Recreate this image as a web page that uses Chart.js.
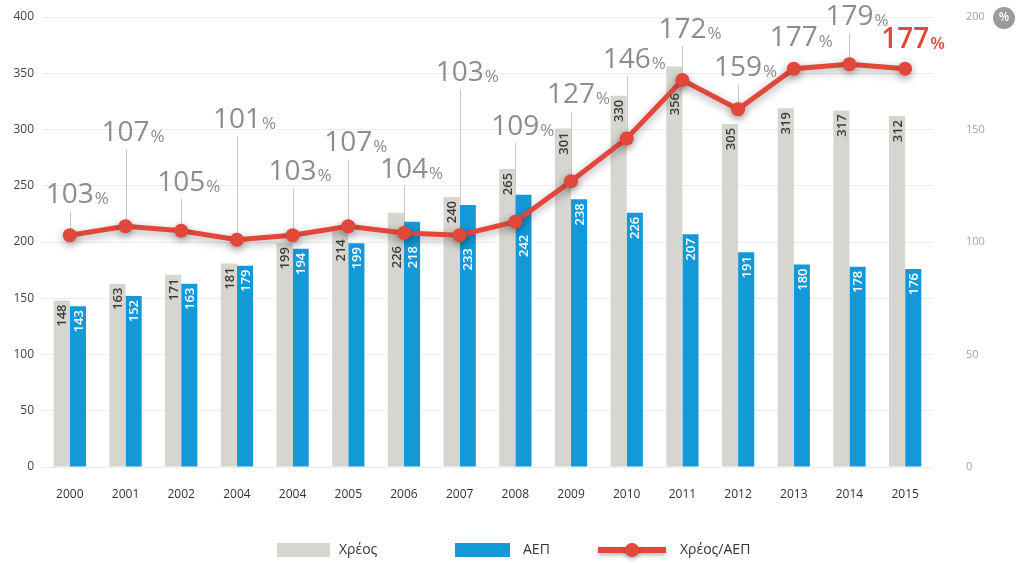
<!DOCTYPE html>
<html>
<head>
<meta charset="utf-8">
<script src="https://cdn.jsdelivr.net/npm/chart.js@4.4.1/dist/chart.umd.min.js"></script>
<style>
  html, body { margin: 0; padding: 0; background: #fff; }
  #wrap { width: 1017px; height: 565px; position: relative; }
</style>
</head>
<body>
<div id="wrap"><canvas id="debt-chart"></canvas></div>
<script>
// Greek public debt vs GDP (bn €) and debt/GDP ratio (%)
const years = ['2000', '2001', '2002', '2004', '2004', '2005', '2006', '2007', '2008', '2009', '2010', '2011', '2012', '2013', '2014', '2015'];
const debt = [148, 163, 171, 181, 199, 214, 226, 240, 265, 301, 330, 356, 305, 319, 317, 312];
const gdp = [143, 152, 163, 179, 194, 199, 218, 233, 242, 238, 226, 207, 191, 180, 178, 176];
const ratio = [103, 107, 105, 101, 103, 107, 104, 103, 109, 127, 146, 172, 159, 177, 179, 177];
const leftTicks = [0, 50, 100, 150, 200, 250, 300, 350, 400];
const rightTicks = [0, 50, 100, 150, 200];

// how far (px) each ratio label sits above its point
const labelLift = [40, 93, 48, 120, 63, 83, 63, 162, 95, 86, 78, 50, 41, 31, 47, 29];

const GREY = '#d7d5cf';
const BLUE = '#1499d8';
const RED = '#e2483a';
const LABEL_GREY = '#8d8d8d';
const FONT = '"Open Sans", "DejaVu Sans", sans-serif';

const shadowPlugin = {
    id: 'lineShadow',
    beforeDatasetDraw(chart, args) {
        if (args.meta.type !== 'line') return;
        const ctx = chart.ctx;
        ctx.save();
        ctx.shadowColor = 'rgba(0,0,0,0.35)';
        ctx.shadowBlur = 8;
        ctx.shadowOffsetY = 3;
    },
    afterDatasetDraw(chart, args) {
        if (args.meta.type !== 'line') return;
        chart.ctx.restore();
    }
};

const leaderPlugin = {
    id: 'leaders',
    beforeDatasetsDraw(chart) {
        const ctx = chart.ctx;
        const meta = chart.getDatasetMeta(0);
        ctx.save();
        ctx.strokeStyle = '#c9c9c9';
        ctx.lineWidth = 1;
        meta.data.forEach((pt, i) => {
            const top = pt.y - labelLift[i] + 16;
            if (pt.y - top < 18) return;
            ctx.beginPath();
            ctx.moveTo(Math.round(pt.x) + 0.5, top);
            ctx.lineTo(Math.round(pt.x) + 0.5, pt.y);
            ctx.stroke();
        });
        ctx.restore();
    }
};

const labelPlugin = {
    id: 'valueLabels',
    afterDatasetsDraw(chart) {
        const ctx = chart.ctx;
        const points = chart.getDatasetMeta(0).data;
        ctx.save();

        // values written up the bars; pushed below the ratio marker where it would cover them
        [[1, debt, '#3a3a3a'], [2, gdp, '#ffffff']].forEach(([idx, values, color]) => {
            chart.getDatasetMeta(idx).data.forEach((bar, i) => {
                const pt = points[i];
                let start = bar.y + 4;
                if (pt.y + 9 > bar.y + 2 && pt.y - 9 < bar.y + 28) start = pt.y + 13;
                ctx.save();
                ctx.translate(bar.x + 1, start);
                ctx.rotate(-Math.PI / 2);
                ctx.font = '600 13px ' + FONT;
                ctx.fillStyle = color;
                ctx.textAlign = 'right';
                ctx.textBaseline = 'middle';
                ctx.fillText(String(values[i]), 0, 0);
                ctx.restore();
            });
        });

        // ratio labels above the line
        points.forEach((pt, i) => {
            const last = i === ratio.length - 1;
            const num = String(ratio[i]);
            const y = pt.y - labelLift[i];
            ctx.font = (last ? '600 ' : '400 ') + '28px ' + FONT;
            const w = ctx.measureText(num).width;
            ctx.fillStyle = last ? RED : LABEL_GREY;
            ctx.textBaseline = 'middle';
            ctx.textAlign = 'left';
            ctx.fillText(num, pt.x - w / 2, y);
            ctx.font = (last ? '600 ' : '400 ') + '17px ' + FONT;
            ctx.fillText('%', pt.x + w / 2 + 1, y + 4);
        });
        ctx.restore();
    }
};

const legendPlugin = {
    id: 'customLegend',
    afterDraw(chart) {
        const ctx = chart.ctx;
        const y = 550;
        ctx.save();
        ctx.font = '14px ' + FONT;
        ctx.textBaseline = 'middle';

        ctx.fillStyle = GREY;
        ctx.fillRect(277, y - 7, 53, 14);
        ctx.fillStyle = '#333';
        ctx.fillText('Χρέος', 339, y);

        ctx.fillStyle = BLUE;
        ctx.fillRect(455, y - 7, 55, 14);
        ctx.fillStyle = '#333';
        ctx.fillText('ΑΕΠ', 523, y);

        ctx.shadowColor = 'rgba(0,0,0,0.3)';
        ctx.shadowBlur = 4;
        ctx.shadowOffsetY = 2;
        ctx.strokeStyle = RED;
        ctx.lineWidth = 6;
        ctx.beginPath();
        ctx.moveTo(598, y);
        ctx.lineTo(666, y);
        ctx.stroke();
        ctx.fillStyle = RED;
        ctx.beginPath();
        ctx.arc(632, y, 7, 0, Math.PI * 2);
        ctx.fill();
        ctx.shadowColor = 'transparent';
        ctx.fillStyle = '#333';
        ctx.fillText('Χρέος/ΑΕΠ', 680, y);

        // unit badge for the right axis
        ctx.fillStyle = '#9a9a9a';
        ctx.beginPath();
        ctx.arc(1004, 18, 11, 0, Math.PI * 2);
        ctx.fill();
        ctx.fillStyle = '#fff';
        ctx.font = '600 12px ' + FONT;
        ctx.textAlign = 'center';
        ctx.fillText('%', 1004, 18);
        ctx.restore();
    }
};

new Chart(document.getElementById('debt-chart'), {
    type: 'bar',
    data: {
        labels: years,
        datasets: [
            {
                type: 'line',
                label: 'Χρέος/ΑΕΠ',
                data: ratio,
                yAxisID: 'y1',
                borderColor: RED,
                backgroundColor: RED,
                borderWidth: 5,
                pointRadius: 7,
                pointBackgroundColor: RED,
                pointBorderWidth: 0,
                tension: 0,
                order: 0
            },
            {
                label: 'Χρέος',
                data: debt,
                yAxisID: 'y',
                backgroundColor: GREY,
                barPercentage: 1,
                categoryPercentage: 0.58,
                order: 1
            },
            {
                label: 'ΑΕΠ',
                data: gdp,
                yAxisID: 'y',
                backgroundColor: BLUE,
                barPercentage: 1,
                categoryPercentage: 0.58,
                order: 1
            }
        ]
    },
    options: {
        responsive: true,
        maintainAspectRatio: false,
        animation: false,
        layout: { padding: { top: 17, right: 0, left: 0, bottom: 0 } },
        plugins: {
            legend: { display: false },
            tooltip: { enabled: false }
        },
        scales: {
            x: {
                grid: { display: false },
                border: { display: false },
                ticks: { color: '#333', font: { family: FONT, size: 12 }, padding: 12, maxRotation: 0, autoSkip: false },
                afterFit: s => { s.height = 98; }
            },
            y: {
                position: 'left',
                min: 0,
                max: 400,
                afterBuildTicks: s => { s.ticks = leftTicks.map(v => ({ value: v })); },
                grid: { color: '#ececec', drawTicks: false },
                border: { display: false },
                ticks: { color: '#444', font: { family: FONT, size: 12 }, padding: 8 },
                afterFit: s => { s.width = 42; s.paddingTop = 0; }
            },
            y1: {
                position: 'right',
                min: 0,
                max: 200,
                afterBuildTicks: s => { s.ticks = rightTicks.map(v => ({ value: v })); },
                grid: { display: false },
                border: { display: false },
                ticks: { color: '#a5a5a5', font: { family: FONT, size: 11 }, padding: 25 },
                afterFit: s => { s.width = 84; s.paddingTop = 0; }
            }
        }
    },
    plugins: [shadowPlugin, leaderPlugin, labelPlugin, legendPlugin]
});
</script>
</body>
</html>
